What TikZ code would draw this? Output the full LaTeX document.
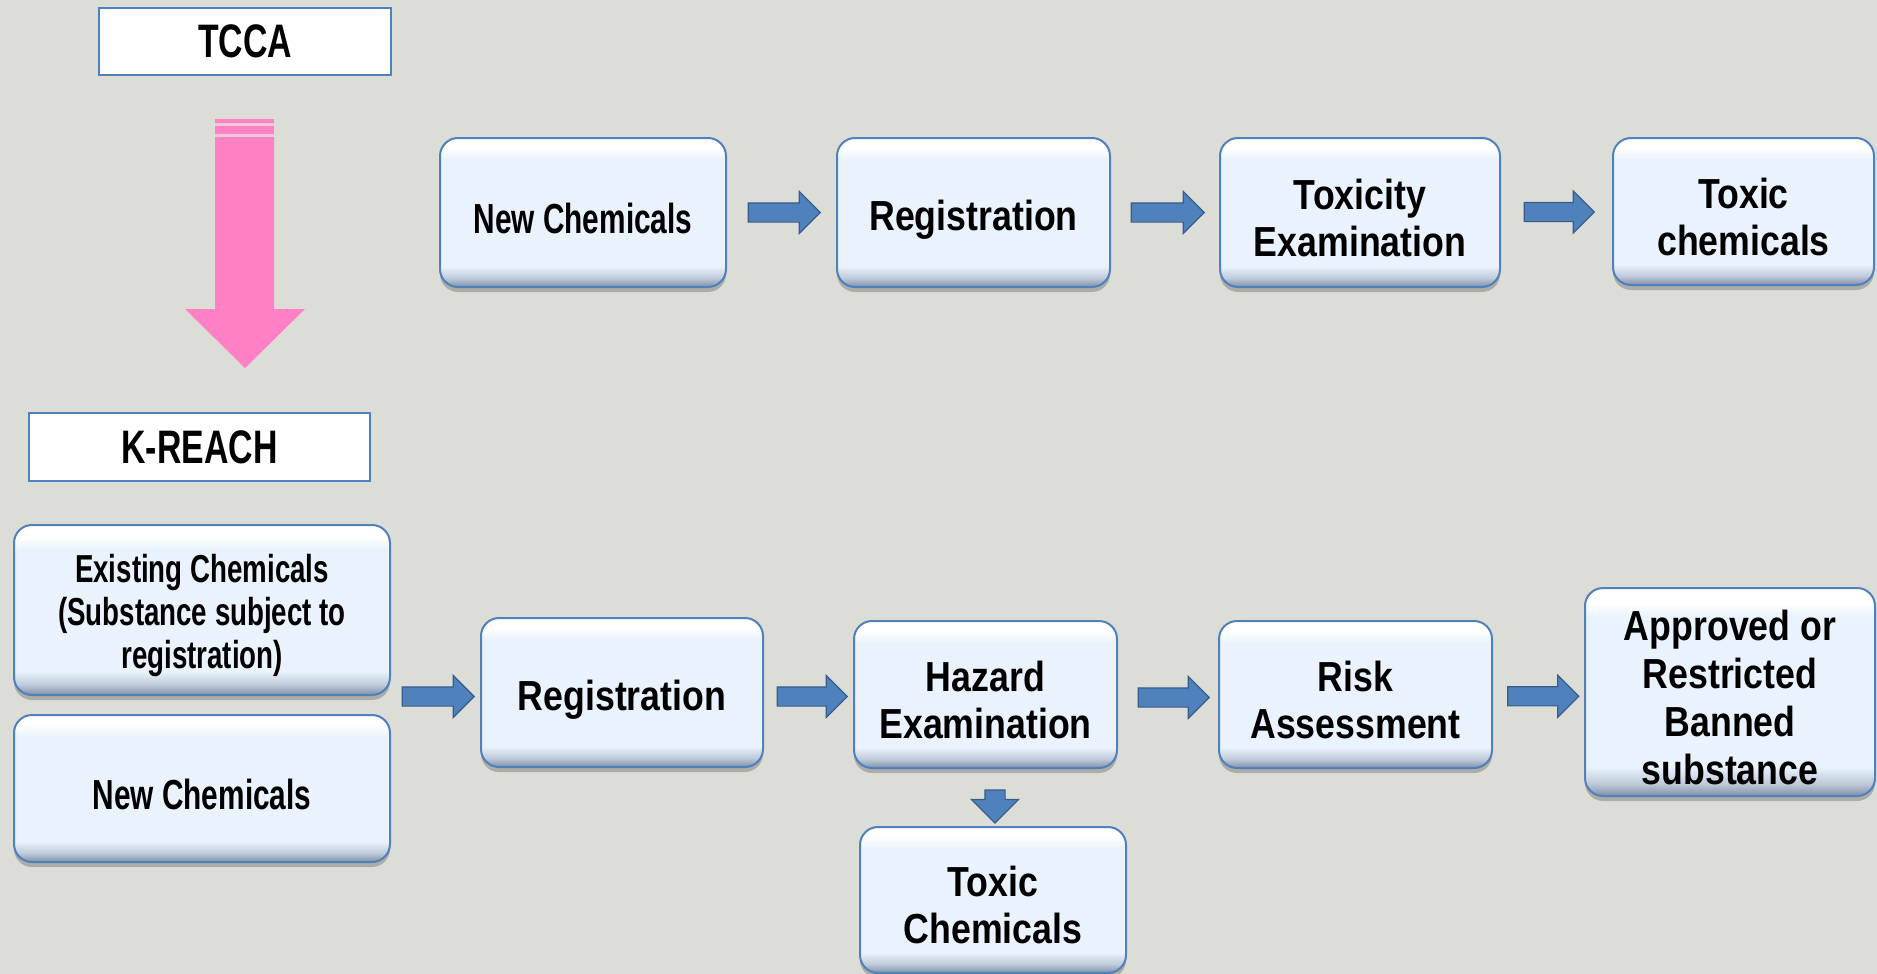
\documentclass[tikz,border=0pt]{standalone}
\usepackage{fontspec}
\setmainfont{Liberation Sans}
\newfontfamily\nfont[FakeStretch=0.85]{Liberation Sans Bold}
\newfontfamily\cfont[FakeStretch=0.71]{Liberation Sans Bold}
\newfontfamily\tfont[FakeStretch=0.72]{Liberation Sans Bold}
\usetikzlibrary{shapes.arrows,shadows,calc}
\definecolor{bg}{RGB}{221,221,216}
\definecolor{bxfill}{RGB}{234,243,253}
\definecolor{bxlow}{RGB}{190,202,218}
\definecolor{bxbot}{RGB}{128,142,166}
\definecolor{bxborder}{RGB}{79,129,189}
\definecolor{arfill}{RGB}{79,129,189}
\definecolor{arborder}{RGB}{56,93,138}
\definecolor{pinkc}{RGB}{255,128,196}
\definecolor{pinklt}{RGB}{236,200,216}
\pgfdeclareverticalshading{boxshade}{100bp}{color(0bp)=(bxbot); color(25bp)=(bxbot); color(28bp)=(bxlow); color(32bp)=(bxfill); color(68bp)=(bxfill); color(71.5bp)=(white); color(75bp)=(white); color(100bp)=(white)}
\begin{document}
\begin{tikzpicture}[x=1pt,y=-1pt,
  box/.style={rounded corners=18pt, draw=bxborder, line width=2pt, shading=boxshade,
    drop shadow={shadow xshift=0pt,shadow yshift=-5pt,opacity=0.22,fill=black},
    inner sep=0pt},
  txt/.style={align=center, inner sep=0pt, font=\nfont\fontsize{42}{47}\selectfont},
  ctxt/.style={txt, font=\cfont\fontsize{42}{46}\selectfont},
  titlebox/.style={draw=bxborder, line width=2pt, fill=white, inner sep=0pt,
    font=\tfont\fontsize{47}{50}\selectfont},
  barrow/.style={single arrow, draw=arborder, fill=arfill, line width=1.2pt,
    inner xsep=0pt, inner ysep=9pt, single arrow head extend=11.5pt, minimum height=72pt},
  darrow/.style={single arrow, draw=arborder, fill=arfill, line width=1.2pt,
    inner xsep=0pt, inner ysep=9.5pt, single arrow head extend=13.5pt, minimum height=33pt, rotate=-90}
]
\useasboundingbox (0,0) rectangle (1877,974);
\fill[bg] (0,0) rectangle (1877,974);

% titles
\node[titlebox, minimum width=292pt, minimum height=67pt] (tcca) at (245,41.5) {TCCA};
\node[titlebox, minimum width=341pt, minimum height=68pt] (kreach) at (199.5,447) {K-REACH};

% pink arrow
\fill[pinkc] (215,119) rectangle (274,122.5);
\fill[pinklt] (215,122.5) rectangle (274,125.7);
\fill[pinkc] (215,125.7) rectangle (274,134);
\fill[pinklt] (215,134) rectangle (274,137);
\fill[pinkc] (215,137) -- (274,137) -- (274,309) -- (305,309) -- (245,368) -- (185,309) -- (215,309) -- cycle;

% top row
\node[box, minimum width=286pt, minimum height=149pt] (nc1) at (583,212.5) {};
\node[box, minimum width=273pt, minimum height=149pt] (reg1) at (973.5,212.5) {};
\node[box, minimum width=280pt, minimum height=149pt] (tox1) at (1360,212.5) {};
\node[box, minimum width=261pt, minimum height=147pt] (toxc1) at (1743.5,211.5) {};
\node[ctxt] at ([yshift=-6pt]nc1.center) {New Chemicals};
\node[txt] at ([yshift=-7pt]reg1.center) {Registration};
\node[txt] at ([yshift=-5pt]tox1.center) {Toxicity\\Examination};
\node[txt] at ([yshift=-5pt]toxc1.center) {Toxic\\chemicals};

\node[barrow, minimum height=72pt] (a1) at ($(nc1.east)!0.5!(reg1.west)+(-2,0)$) {};
\node[barrow, minimum height=73pt] (a2) at ($(reg1.east)!0.5!(tox1.west)+(-2,0)$) {};
\node[barrow, minimum height=70pt] (a3) at ($(tox1.east)!0.5!(toxc1.west)+(-2,0)$) {};

% bottom row
\node[box, minimum width=376pt, minimum height=170pt] (exist) at (202,610) {};
\node[box, minimum width=376pt, minimum height=147pt] (nc2) at (202,788.5) {};
\node[box, minimum width=282pt, minimum height=149pt] (reg2) at (622,692.5) {};
\node[box, minimum width=263pt, minimum height=147pt] (haz) at (985.5,694.5) {};
\node[box, minimum width=273pt, minimum height=147pt] (risk) at (1355.5,694.5) {};
\node[box, minimum width=290pt, minimum height=208pt] (appr) at (1730,692) {};
\node[box, minimum width=266pt, minimum height=146pt] (toxc2) at (993,900) {};
\node[ctxt, font=\cfont\fontsize{39}{43}\selectfont] at ([yshift=-5pt]exist.center) {Existing Chemicals\\(Substance subject to\\registration)};
\node[ctxt] at ([yshift=-6pt]nc2.center) {New Chemicals};
\node[txt] at ([yshift=-7pt]reg2.center) {Registration};
\node[txt] at ([yshift=-5pt]haz.center) {Hazard\\Examination};
\node[txt] at ([yshift=-5pt]risk.center) {Risk\\Assessment};
\node[txt, font=\nfont\fontsize{42}{48}\selectfont] at ([yshift=-5pt]appr.center) {Approved or\\Restricted\\Banned\\substance};
\node[txt] at ([yshift=-5pt]toxc2.center) {Toxic\\Chemicals};

\node[barrow, minimum height=72pt] (b1) at ($(exist.east|-reg2.east)!0.5!(reg2.west)+(-2,4)$) {};
\node[barrow, minimum height=70pt] (b2) at ($(reg2.east)!0.5!(haz.west)+(-1,3)$) {};
\node[barrow, minimum height=71pt] (b3) at ($(haz.east)!0.5!(risk.west)+(1,3)$) {};
\node[barrow, minimum height=71pt] (b4) at ($(risk.east)!0.5!(appr.west)+(0,3)$) {};
\node[darrow] (b5) at ($(haz.south-|toxc2.north)!0.5!(toxc2.north)+(2,4)$) {};
\end{tikzpicture}
\end{document}
